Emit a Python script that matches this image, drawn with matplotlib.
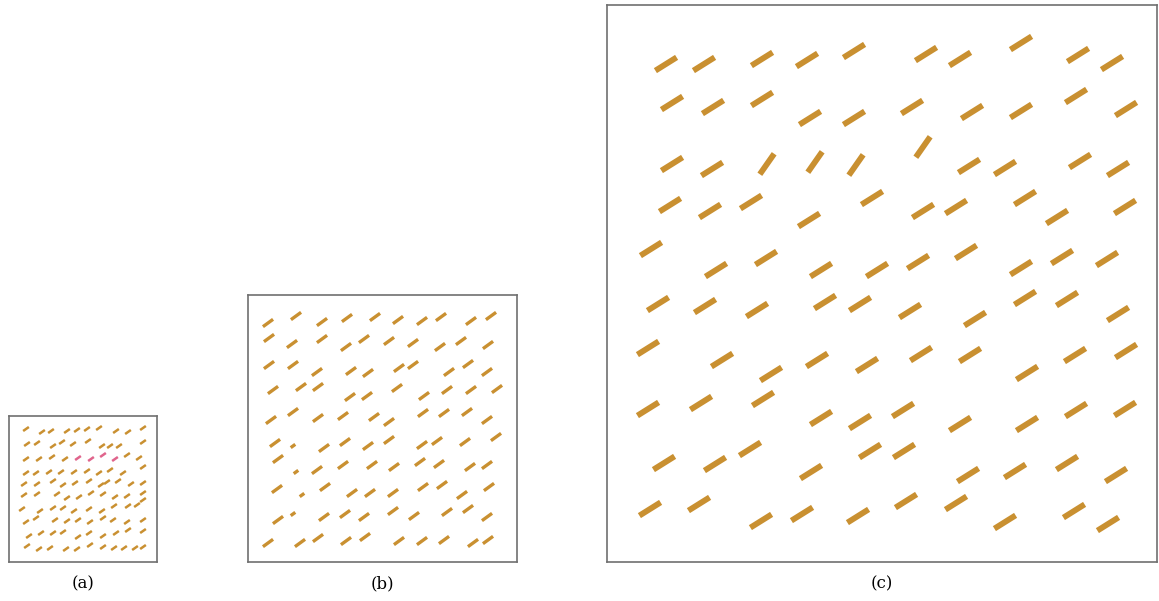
import numpy as np
import matplotlib
matplotlib.use('Agg')
import matplotlib.pyplot as plt
from matplotlib.collections import LineCollection

# panel (a): segment centres (pixel coords in the figure) and orientation (degrees)
a_x = [26, 42, 51, 67, 77, 87, 99, 116, 128, 143,
       27, 37, 53, 62, 73, 88, 102, 110, 119, 143,
       26, 39, 52, 65, 78, 91, 103, 115, 127, 139,
       26, 36, 49, 61, 74, 87, 99, 110, 123, 143,
       24, 37, 53, 63, 75, 89, 101, 107, 118, 131, 143,
       24, 37, 57, 67, 79, 91, 103, 115, 127, 143,
       22, 40, 53, 63, 74, 89, 102, 114, 128, 137, 143,
       26, 36, 55, 67, 78, 90, 103, 113, 127, 143,
       29, 41, 53, 63, 78, 89, 103, 116, 128, 143,
       27, 39, 50, 66, 77, 90, 103, 114, 124, 135, 143]
a_y = [429, 432, 431, 431, 430, 429, 428, 431, 432, 428,
       444, 443, 446, 442, 444, 441, 446, 446, 446, 442,
       459, 459, 457, 459, 458, 459, 455, 459, 455, 458,
       473, 473, 472, 472, 472, 471, 473, 470, 473, 467,
       484, 484, 481, 485, 483, 481, 485, 482, 481, 484, 483,
       495, 494, 494, 498, 497, 493, 494, 497, 496, 493,
       509, 511, 508, 508, 511, 509, 511, 506, 506, 505, 500,
       522, 518, 520, 521, 520, 522, 518, 520, 522, 520,
       536, 533, 533, 532, 537, 533, 536, 533, 530, 531,
       546, 549, 548, 549, 549, 545, 547, 548, 548, 548, 547]
a_highlight = [24, 25, 26, 27]   # the pink segments in row 3

# panel (b)
b_x = [268, 296, 322, 347, 375, 398, 422, 441, 471, 491,
       269, 292, 322, 346, 364, 389, 413, 440, 461, 488,
       269, 293, 317, 351, 368, 399, 413, 449, 468, 487,
       273, 301, 318, 350, 367, 397, 424, 447, 471, 497,
       271, 293, 318, 343, 374, 389, 423, 444, 467, 487,
       275, 293, 324, 345, 368, 389, 422, 437, 465, 496,
       278, 296, 317, 343, 372, 394, 420, 439, 470, 487,
       277, 302, 325, 352, 370, 393, 423, 442, 462, 489,
       278, 293, 324, 345, 364, 393, 414, 447, 468, 487,
       268, 300, 318, 346, 365, 399, 422, 444, 473, 488]
b_y = [323, 316, 322, 318, 317, 320, 321, 317, 321, 316,
       338, 344, 339, 347, 339, 341, 343, 347, 341, 345,
       365, 365, 372, 371, 373, 368, 365, 372, 364, 372,
       390, 387, 387, 397, 396, 388, 396, 390, 390, 389,
       420, 412, 418, 416, 417, 422, 413, 413, 412, 420,
       443, 446, 448, 442, 446, 440, 445, 441, 442, 437,
       459, 472, 470, 465, 465, 467, 462, 464, 467, 465,
       489, 495, 487, 493, 493, 493, 487, 485, 495, 487,
       520, 514, 517, 514, 517, 511, 516, 512, 509, 517,
       543, 543, 538, 541, 537, 541, 541, 540, 543, 540]
b_mag = [1.0] * 100
for i in (51, 61, 71, 81):
    b_mag[i] = 0.45

# panel (c)
c_x = [666, 704, 762, 807, 854, 926, 960, 1021, 1078, 1112,
       672, 713, 762, 810, 854, 912, 972, 1021, 1076, 1126,
       672, 712, 767, 815, 856, 923, 969, 1005, 1080, 1118,
       670, 710, 751, 809, 872, 923, 956, 1025, 1057, 1125,
       651, 716, 766, 821, 877, 918, 966, 1021, 1062, 1107,
       658, 705, 757, 825, 860, 910, 975, 1025, 1067, 1118,
       648, 722, 771, 817, 867, 921, 970, 1027, 1075, 1126,
       648, 701, 763, 821, 860, 903, 960, 1027, 1076, 1125,
       664, 715, 750, 811, 870, 904, 968, 1015, 1067, 1116,
       650, 699, 761, 802, 858, 906, 956, 1005, 1074, 1108]
c_y = [64, 64, 59, 60, 51, 54, 59, 43, 55, 63,
       103, 107, 99, 118, 118, 107, 112, 111, 96, 109,
       164, 169, 164, 162, 165, 147, 166, 168, 161, 169,
       205, 211, 202, 220, 198, 211, 207, 198, 217, 207,
       249, 270, 258, 270, 270, 262, 252, 268, 257, 259,
       304, 306, 310, 302, 304, 311, 319, 298, 299, 314,
       348, 360, 374, 360, 365, 354, 355, 373, 355, 351,
       409, 403, 399, 418, 422, 410, 424, 424, 410, 409,
       463, 464, 449, 472, 451, 451, 475, 471, 463, 475,
       509, 504, 521, 514, 516, 501, 503, 522, 511, 524]
c_ang = [32] * 100
for i in (22, 23, 24, 25):
    c_ang[i] = 55

W, H = 1159, 601
fig = plt.figure(figsize=(W / 100, H / 100), dpi=100)

gold = '#C99031'
pink = '#E0648C'


def panel(box, xs, ys, angles, length, lw, mags=None, colors=None, label=''):
    x0, y0, x1, y1 = box
    ax = fig.add_axes([x0 / W, 1 - y1 / H, (x1 - x0) / W, (y1 - y0) / H])
    ax.set_xlim(x0, x1)
    ax.set_ylim(y1, y0)
    ax.set_xticks([])
    ax.set_yticks([])
    for s in ax.spines.values():
        s.set_color('#707070')
        s.set_linewidth(1.2)
    xs = np.array(xs, float)
    ys = np.array(ys, float)
    th = np.radians(angles)
    half = length / 2 * (np.array(mags) if mags is not None else 1.0)
    dx = half * np.cos(th)
    dy = half * np.sin(th)
    segs = np.stack([np.column_stack([xs - dx, ys + dy]),
                     np.column_stack([xs + dx, ys - dy])], axis=1)
    lc = LineCollection(segs, colors=colors if colors is not None else gold,
                        linewidths=lw, capstyle='butt')
    ax.add_collection(lc)
    fig.text((x0 + x1) / 2 / W, 1 - 584 / H, label, ha='center', va='center',
             fontsize=12, family='DejaVu Serif')
    return ax


a_cols = [pink if i in a_highlight else gold for i in range(len(a_x))]
panel((9, 416, 157, 562), a_x, a_y, [35] * len(a_x), 7, 1.8, colors=a_cols, label='(a)')
panel((248, 295, 517, 562), b_x, b_y, [36] * len(b_x), 12.5, 2.4, mags=b_mag, label='(b)')
panel((607, 5, 1157, 562), c_x, c_y, c_ang, 25, 4.2, label='(c)')

fig.savefig('out.png', dpi=100)
